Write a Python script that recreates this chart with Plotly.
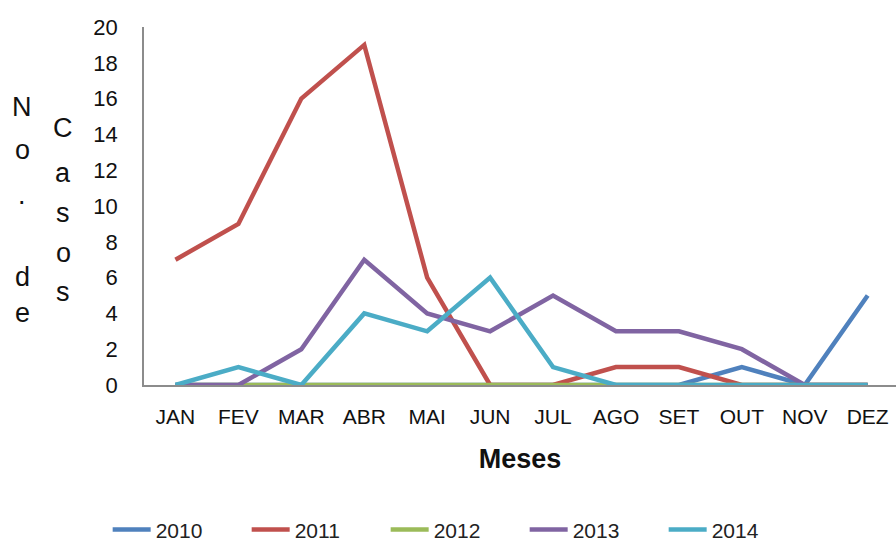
import plotly.graph_objects as go

meses = ["JAN", "FEV", "MAR", "ABR", "MAI", "JUN", "JUL", "AGO", "SET", "OUT", "NOV", "DEZ"]

casos_2010 = [0, 0, 0, 0, 0, 0, 0, 0, 0, 1, 0, 5]
casos_2011 = [7, 9, 16, 19, 6, 0, 0, 1, 1, 0, 0, 0]
casos_2012 = [0, 0, 0, 0, 0, 0, 0, 0, 0, 0, 0, 0]
casos_2013 = [0, 0, 2, 7, 4, 3, 5, 3, 3, 2, 0, 0]
casos_2014 = [0, 1, 0, 4, 3, 6, 1, 0, 0, 0, 0, 0]

series = [
    ("2010", casos_2010, "#4F81BD"),
    ("2011", casos_2011, "#C0504D"),
    ("2012", casos_2012, "#9BBB59"),
    ("2013", casos_2013, "#8064A2"),
    ("2014", casos_2014, "#4BACC6"),
]

sans = "Liberation Sans, Arial, sans-serif"

# plot area geometry in pixels
L, T, W, H = 144, 27, 752, 358

fig = go.Figure()
for nome, valores, cor in series:
    fig.add_trace(go.Scatter(
        x=meses, y=valores, name=nome, mode="lines",
        line=dict(color=cor, width=4.5),
    ))

fig.update_layout(
    width=896, height=544,
    margin=dict(l=L, r=896 - L - W, t=T, b=544 - T - H),
    paper_bgcolor="white", plot_bgcolor="white",
    showlegend=True,
    legend=dict(
        orientation="h", xref="container", yref="container",
        x=0.508, xanchor="center", y=0.026, yanchor="middle",
        font=dict(family=sans, size=21, color="#222"),
        entrywidth=86, entrywidthmode="pixels",
        itemwidth=38,
    ),
    xaxis=dict(
        type="category", range=[-0.5, 11.45],
        showgrid=False, zeroline=False,
        showline=True, linecolor="#8c8c8c", linewidth=1.5,
        ticks="", ticklabelstandoff=12,
        tickfont=dict(family=sans, size=21, color="#111"),
        title=dict(text="<b>Meses</b>", font=dict(family=sans, size=27, color="#111"), standoff=22),
    ),
    yaxis=dict(
        range=[0, 20], tickmode="array", tickvals=list(range(0, 21, 2)),
        showgrid=False, zeroline=False,
        showline=True, linecolor="#8c8c8c", linewidth=1.5,
        ticks="", ticklabelstandoff=20,
        tickfont=dict(family=sans, size=22, color="#111"),
    ),
)

# Stacked-letter y axis title, two columns: "No. de" and "Casos"
col1 = [("N", 107), ("o", 150), (".", 195), ("d", 277), ("e", 313)]
col2 = [("C", 128), ("a", 173), ("s", 213), ("o", 253), ("s", 292)]
for letras, px in ((col1, 22), (col2, 63)):
    for ch, py in letras:
        fig.add_annotation(
            text=ch, xref="paper", yref="paper",
            x=(px - L) / W, y=(T + H - py) / H,
            xanchor="center", yanchor="middle",
            showarrow=False,
            font=dict(family=sans, size=27, color="#111"),
        )

fig.write_html("out.html")
